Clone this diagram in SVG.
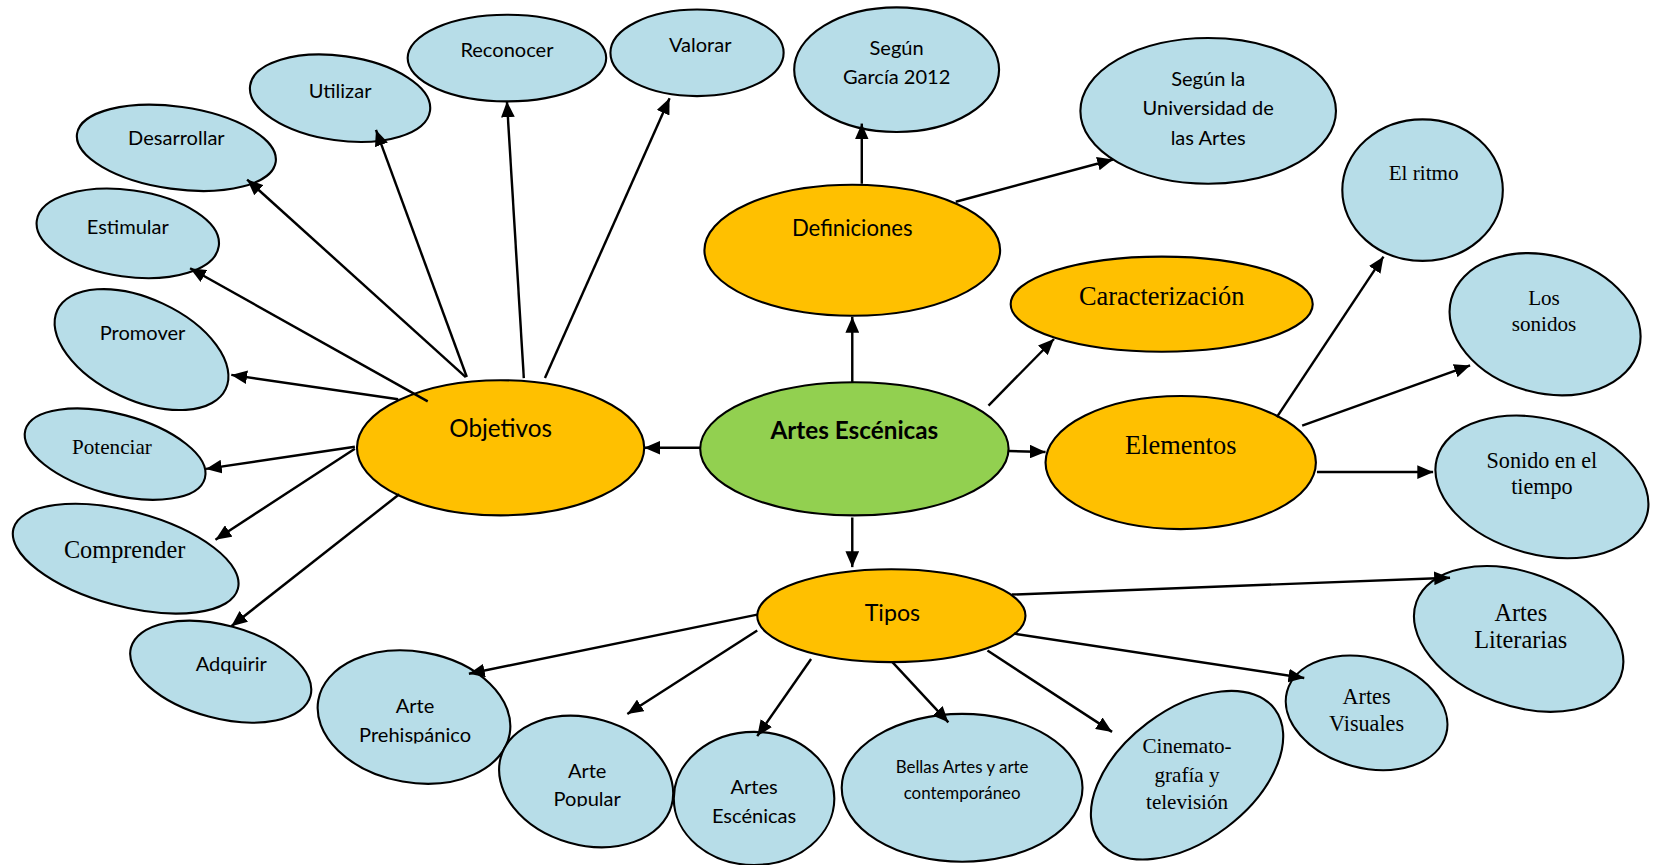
<svg xmlns="http://www.w3.org/2000/svg" width="1656" height="865" viewBox="0 0 1656 865">
<style>
.b{fill:#b7dde8;stroke:#000;stroke-width:2}
.o{fill:#ffc000;stroke:#000;stroke-width:2}
.g{fill:#92d050;stroke:#000;stroke-width:2}
.s{font-family:Lato,"Liberation Sans",sans-serif;font-size:19px;fill:#000;text-anchor:middle}
.t{font-family:"Liberation Serif","Times New Roman",serif;font-size:20px;fill:#000;text-anchor:middle}
.c line{stroke:#000;stroke-width:2.3;marker-end:url(#ah)}
</style>
<defs>
<marker id="ah" markerUnits="userSpaceOnUse" markerWidth="15" markerHeight="13" viewBox="0 0 15 13" refX="15" refY="6.5" orient="auto">
<path d="M0,0 L15,6.5 L0,13 z" fill="#000"/>
</marker>
<clipPath id="clipPre" clipPathUnits="userSpaceOnUse"><rect x="300" y="640" width="190" height="64"/></clipPath>
<clipPath id="clipPop" clipPathUnits="userSpaceOnUse"><rect x="470" y="700" width="170" height="64"/></clipPath>
</defs>
<rect width="1656" height="865" fill="#fff"/>
<g transform="scale(1.0561)">
<g id="reconocer"><ellipse class="b" cx="480" cy="55" rx="94" ry="41"/><text class="s" x="480" y="54">Reconocer</text></g>
<g id="utilizar"><ellipse class="b" cx="322" cy="93" rx="86" ry="40" transform="rotate(8 322 93)"/><text class="s" x="322" y="93">Utilizar</text></g>
<g id="desarrollar"><ellipse class="b" cx="167" cy="140" rx="95" ry="39" transform="rotate(8 167 140)"/><text class="s" x="167" y="137">Desarrollar</text></g>
<g id="estimular"><ellipse class="b" cx="121" cy="221" rx="87" ry="41" transform="rotate(8 121 221)"/><text class="s" x="121" y="222">Estimular</text></g>
<g id="promover"><ellipse class="b" cx="134" cy="331" rx="88" ry="48" transform="rotate(25 134 331)"/><text class="s" x="135" y="322">Promover</text></g>
<g id="potenciar"><ellipse class="b" cx="109" cy="430" rx="88" ry="38" transform="rotate(15 109 430)"/><text class="t" x="106" y="430">Potenciar</text></g>
<g id="comprender"><ellipse class="b" cx="119" cy="529" rx="110" ry="45" transform="rotate(15 119 529)"/><text class="t" x="118" y="528" style="font-size:23px">Comprender</text></g>
<g id="adquirir"><ellipse class="b" cx="209" cy="636" rx="88" ry="44" transform="rotate(15 209 636)"/><text class="s" x="219" y="635">Adquirir</text></g>
<g id="valorar"><ellipse class="b" cx="660" cy="50" rx="82" ry="41"/><text class="s" x="663" y="49">Valorar</text></g>
<g id="segun-garcia"><ellipse class="b" cx="849" cy="66" rx="97" ry="59"/><text class="s" x="849" y="52">Según</text><text class="s" x="849" y="80">García 2012</text></g>
<g id="segun-universidad"><ellipse class="b" cx="1144" cy="105" rx="121" ry="69"/><text class="s" x="1144" y="81">Según la</text><text class="s" x="1144" y="109">Universidad de</text><text class="s" x="1144" y="137">las Artes</text></g>
<g id="definiciones"><ellipse class="o" cx="807" cy="237" rx="140" ry="62"/><text class="s" x="807" y="223" style="font-size:21px">Definiciones</text></g>
<g id="caracterizacion"><ellipse class="o" cx="1100" cy="288" rx="143" ry="45"/><text class="t" x="1100" y="289" style="font-size:25px">Caracterización</text></g>
<g id="el-ritmo"><ellipse class="b" cx="1347" cy="180" rx="76" ry="67"/><text class="t" x="1348" y="170">El ritmo</text></g>
<g id="los-sonidos"><ellipse class="b" cx="1463" cy="307" rx="92" ry="65" transform="rotate(15 1463 307)"/><text class="t" x="1462" y="289">Los</text><text class="t" x="1462" y="313">sonidos</text></g>
<g id="elementos"><ellipse class="o" cx="1118" cy="438" rx="128" ry="63"/><text class="t" x="1118" y="430" style="font-size:25px">Elementos</text></g>
<g id="sonido-tiempo"><ellipse class="b" cx="1460" cy="461" rx="103" ry="64" transform="rotate(15 1460 461)"/><text class="t" x="1460" y="443" style="font-size:21px">Sonido en el</text><text class="t" x="1460" y="468" style="font-size:21px">tiempo</text></g>
<g id="artes-escenicas"><ellipse class="g" cx="809" cy="425" rx="146" ry="63"/><text class="s" x="809" y="416" style="font-size:23px;font-weight:bold">Artes Escénicas</text></g>
<g id="objetivos"><ellipse class="o" cx="474" cy="424" rx="136" ry="64"/><text class="s" x="474" y="414" style="font-size:23px">Objetivos</text></g>
<g id="tipos"><ellipse class="o" cx="844" cy="583" rx="127" ry="44"/><text class="s" x="845" y="588" style="font-size:22px">Tipos</text></g>
<g id="artes-literarias"><ellipse class="b" cx="1438" cy="605" rx="103" ry="63" transform="rotate(20 1438 605)"/><text class="t" x="1440" y="588" style="font-size:23px">Artes</text><text class="t" x="1440" y="614" style="font-size:23px">Literarias</text></g>
<g id="artes-visuales"><ellipse class="b" cx="1294" cy="675" rx="78" ry="52" transform="rotate(15 1294 675)"/><text class="t" x="1294" y="667" style="font-size:21px">Artes</text><text class="t" x="1294" y="692" style="font-size:21px">Visuales</text></g>
<g id="cinematografia"><ellipse class="b" cx="1124" cy="734" rx="104" ry="62" transform="rotate(-37 1124 734)"/><text class="t" x="1124" y="713">Cinemato-</text><text class="t" x="1124" y="740">grafía y</text><text class="t" x="1124" y="766">televisión</text></g>
<g id="bellas-artes"><ellipse class="b" cx="911" cy="746" rx="114" ry="70"/><text class="s" x="911" y="732" style="font-size:16px">Bellas Artes y arte</text><text class="s" x="911" y="757" style="font-size:16px">contemporáneo</text></g>
<g id="artes-escenicas-tipo"><ellipse class="b" cx="714" cy="756" rx="76" ry="63"/><text class="s" x="714" y="752">Artes</text><text class="s" x="714" y="779">Escénicas</text></g>
<g id="arte-prehispanico"><ellipse class="b" cx="392" cy="679" rx="92" ry="62" transform="rotate(10 392 679)"/><text class="s" x="393" y="675">Arte</text><text class="s" x="393" y="703" clip-path="url(#clipPre)">Prehispánico</text></g>
<g id="arte-popular"><ellipse class="b" cx="555" cy="740" rx="84" ry="60" transform="rotate(16 555 740)"/><text class="s" x="556" y="737">Arte</text><text class="s" x="556" y="763" clip-path="url(#clipPop)">Popular</text></g>
<g class="c" id="connectors">
<line x1="807" y1="362" x2="807" y2="300"/>
<line x1="936" y1="384" x2="998" y2="321"/>
<line x1="955" y1="427" x2="990" y2="428"/>
<line x1="663" y1="424" x2="610" y2="424"/>
<line x1="807" y1="490" x2="807" y2="537"/>
<line x1="816" y1="174" x2="816" y2="117"/>
<line x1="905" y1="191" x2="1054" y2="151"/>
<line x1="496" y1="358" x2="480" y2="96"/>
<line x1="442" y1="357" x2="356" y2="123"/>
<line x1="516" y1="358" x2="634" y2="93"/>
<line x1="441" y1="357" x2="234" y2="170"/>
<line x1="405" y1="380" x2="180" y2="254"/>
<line x1="377" y1="378" x2="219" y2="355"/>
<line x1="336" y1="423" x2="195" y2="444"/>
<line x1="336" y1="425" x2="204" y2="511"/>
<line x1="378" y1="468" x2="219" y2="593"/>
<line x1="1209" y1="395" x2="1310" y2="243"/>
<line x1="1233" y1="403" x2="1392" y2="346"/>
<line x1="1247" y1="447" x2="1357" y2="447"/>
<line x1="958" y1="563" x2="1373" y2="547"/>
<line x1="960" y1="600" x2="1235" y2="642"/>
<line x1="935" y1="616" x2="1053" y2="693"/>
<line x1="845" y1="627" x2="898" y2="684"/>
<line x1="768" y1="624" x2="717" y2="697"/>
<line x1="717" y1="597" x2="594" y2="676"/>
<line x1="717" y1="582" x2="444" y2="638"/>
</g>
</g>
</svg>
